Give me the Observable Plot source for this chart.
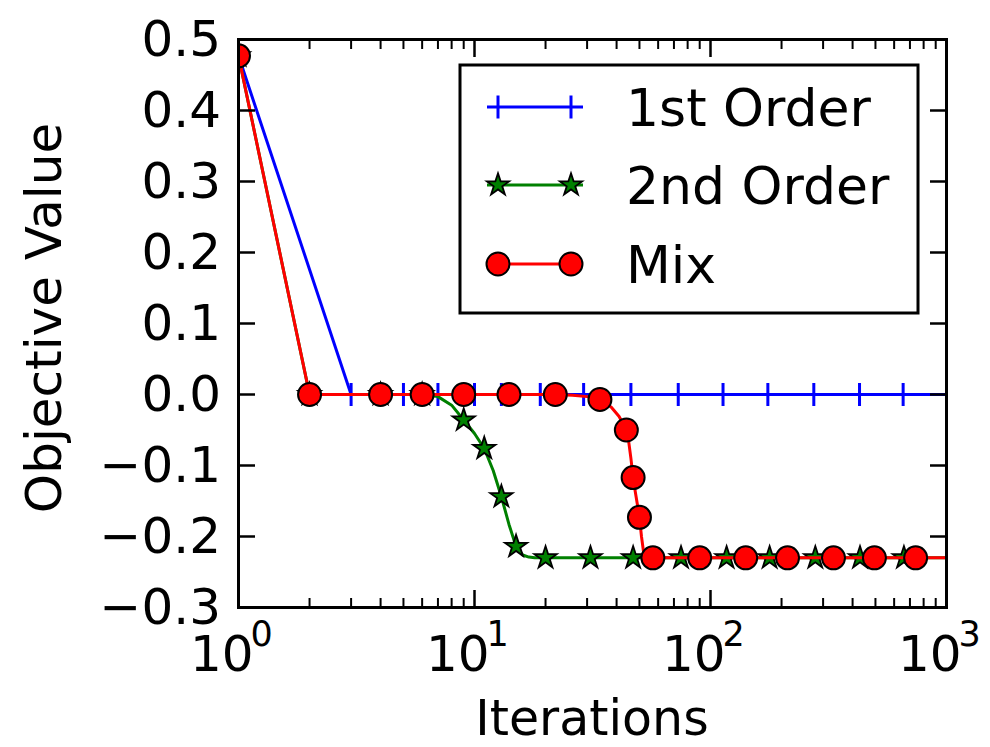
<!DOCTYPE html>
<html><head><meta charset="utf-8">
<script src="https://cdn.jsdelivr.net/npm/d3@7"></script>
<script src="https://cdn.jsdelivr.net/npm/@observablehq/plot@0.6"></script>
<style>
html,body{margin:0;padding:0;background:#fff;}
#chart{width:990px;height:747px;}
</style>
</head><body><div id="chart"></div>
<script>
// ---- Data ----
const seriesNames = ["1st Order", "2nd Order", "Mix"];

const firstOrderIter  = [1, 3, 1000];
const firstOrderValue = [0.477, 0, 0];
const firstOrderMarkerIter  = [1, 3, 5, 7, 10, 13, 19, 29, 46, 73, 113, 175, 274, 428, 655];
const firstOrderMarkerValue = [0.477, 0, 0, 0, 0, 0, 0, 0, 0, 0, 0, 0, 0, 0, 0];

const secondOrderIter  = [1, 2, 6, 7, 8, 9, 10, 11, 12, 13, 14, 15, 16, 17, 18, 1000];
const secondOrderValue = [0.477, 0, 0, -0.003, -0.015, -0.036, -0.055, -0.076, -0.107, -0.144, -0.183, -0.214, -0.226, -0.229, -0.23, -0.23];
const secondOrderMarkerIter  = [1, 2, 4, 6, 9, 11, 13, 15, 20, 31, 47, 75, 117, 178, 278, 430, 660];
const secondOrderMarkerValue = [0.477, 0, 0, 0, -0.036, -0.076, -0.144, -0.214, -0.23, -0.23, -0.23, -0.23, -0.23, -0.23, -0.23, -0.23, -0.23];

const mixIter  = [1, 2, 22, 26, 30, 34, 38, 41, 44, 45, 46, 47, 48, 49, 50, 51, 52, 53, 55, 1000];
const mixValue = [0.477, 0, 0, -0.001, -0.003, -0.007, -0.018, -0.031, -0.05, -0.066, -0.09, -0.117, -0.137, -0.155, -0.173, -0.2, -0.221, -0.228, -0.23, -0.23];
const mixMarkerIter  = [1, 2, 4, 6, 9, 14, 22, 34, 44, 47, 50, 57, 90, 141, 212, 332, 495, 740];
const mixMarkerValue = [0.477, 0, 0, 0, 0, 0, 0, -0.007, -0.05, -0.117, -0.173, -0.23, -0.23, -0.23, -0.23, -0.23, -0.23, -0.23];

const xMajorTicks = [1, 10, 100, 1000];
const xTickExponents = ["0", "1", "2", "3"];
const xMinorTicks = [2,3,4,5,6,7,8,9,20,30,40,50,60,70,80,90,200,300,400,500,600,700,800,900];
const yTicks = [-0.3, -0.2, -0.1, 0.0, 0.1, 0.2, 0.3, 0.4, 0.5];

// ---- helpers ----
const zip = (xs, ys) => xs.map((x, i) => ({x, y: ys[i]}));
const firstLine = zip(firstOrderIter, firstOrderValue);
const firstPts = zip(firstOrderMarkerIter, firstOrderMarkerValue);
const secondLine = zip(secondOrderIter, secondOrderValue);
const secondPts = zip(secondOrderMarkerIter, secondOrderMarkerValue);
const mixLine = zip(mixIter, mixValue);
const mixPts = zip(mixMarkerIter, mixMarkerValue);

const BLUE = "#0000ff", GREEN = "#008000", RED = "#ff0000";
const LW = 3;
const plusSymbol = {
  draw(ctx, size) {
    const h = Math.sqrt(size / Math.PI);
    ctx.moveTo(-h, 0); ctx.lineTo(h, 0);
    ctx.moveTo(0, -h); ctx.lineTo(0, h);
  }
};
const FONT = "DejaVu Sans";
const noText = () => "";

const chart = Plot.plot({
  width: 990, height: 747,
  marginLeft: 238, marginRight: 44, marginTop: 39, marginBottom: 140,
  style: {fontFamily: FONT, fontSize: "50px", background: "white", color: "black", overflow: "visible"},
  x: {type: "log", domain: [1, 1000]},
  y: {domain: [-0.3, 0.5]},
  marks: [
    // series
    Plot.line(firstLine, {x: "x", y: "y", stroke: BLUE, strokeWidth: LW, clip: true}),
    Plot.dot(firstPts, {x: "x", y: "y", symbol: plusSymbol, r: 11.5, stroke: BLUE, fill: "none", strokeWidth: LW, clip: true}),
    Plot.line(secondLine, {x: "x", y: "y", stroke: GREEN, strokeWidth: LW, clip: true}),
    Plot.dot(secondPts, {x: "x", y: "y", symbol: "star", r: 7, fill: GREEN, stroke: "black", strokeWidth: 1.8, clip: true}),
    Plot.line(mixLine, {x: "x", y: "y", stroke: RED, strokeWidth: LW, clip: true}),
    Plot.dot(mixPts, {x: "x", y: "y", symbol: "circle", r: 11.5, fill: RED, stroke: "black", strokeWidth: 2, clip: true}),
    // inward ticks
    Plot.axisX(xMajorTicks, {anchor: "bottom", tickSize: -17, strokeWidth: 2.5, tickFormat: noText, label: null}),
    Plot.axisX(xMinorTicks, {anchor: "bottom", tickSize: -9, strokeWidth: 2, tickFormat: noText, label: null}),
    Plot.axisX(xMajorTicks, {anchor: "top", tickSize: -17, strokeWidth: 2.5, tickFormat: noText, label: null}),
    Plot.axisX(xMinorTicks, {anchor: "top", tickSize: -9, strokeWidth: 2, tickFormat: noText, label: null}),
    Plot.axisY(yTicks, {anchor: "left", tickSize: -17, strokeWidth: 2.5, tickFormat: noText, label: null}),
    Plot.axisY(yTicks, {anchor: "right", tickSize: -17, strokeWidth: 2.5, tickFormat: noText, label: null}),
    // y tick labels
    Plot.axisY(yTicks, {anchor: "left", tickSize: 0, tickPadding: 17.5, tickFormat: d3.format(".1f"), fontSize: 50, label: null}),
    // x tick labels 10^k
    Plot.text(xMajorTicks, {x: d => d, text: () => "10", frameAnchor: "bottom", textAnchor: "end", lineAnchor: "bottom", dx: 15, dy: 63, fontSize: 50, fill: "black"}),
    Plot.text(xMajorTicks, {x: d => d, text: (d, i) => xTickExponents[i], frameAnchor: "bottom", textAnchor: "start", lineAnchor: "bottom", dx: 12, dy: 38, fontSize: 35, fill: "black"}),
    Plot.frame({stroke: "black", strokeWidth: 3})
  ]
});
document.getElementById("chart").appendChild(chart);

// ---- axis titles and legend ----
const svg = d3.select(chart);
svg.append("text").attr("transform", "translate(61,318) rotate(-90)")
  .attr("text-anchor", "middle").attr("font-family", FONT).attr("font-size", 50).attr("fill", "black")
  .text("Objective Value");
svg.append("text").attr("x", 592).attr("y", 735)
  .attr("text-anchor", "middle").attr("font-family", FONT).attr("font-size", 49).attr("fill", "black")
  .text("Iterations");

const lg = svg.append("g");
lg.append("rect").attr("x", 460).attr("y", 65).attr("width", 458).attr("height", 248)
  .attr("fill", "white").attr("stroke", "black").attr("stroke-width", 3);
const rowsY = [107, 185, 264];
const colors = [BLUE, GREEN, RED];
rowsY.forEach((yy, i) => {
  lg.append("line").attr("x1", 487).attr("x2", 583).attr("y1", yy).attr("y2", yy)
    .attr("stroke", colors[i]).attr("stroke-width", LW);
  [498, 571].forEach(xx => {
    if (i === 0) {
      lg.append("line").attr("x1", xx).attr("x2", xx).attr("y1", yy - 11.5).attr("y2", yy + 11.5)
        .attr("stroke", BLUE).attr("stroke-width", LW);
    } else if (i === 1) {
      lg.append("path").attr("transform", `translate(${xx},${yy})`)
        .attr("d", d3.symbol(d3.symbolStar, Math.PI * 7 * 7)())
        .attr("fill", GREEN).attr("stroke", "black").attr("stroke-width", 1.8);
    } else {
      lg.append("circle").attr("cx", xx).attr("cy", yy).attr("r", 11.5)
        .attr("fill", RED).attr("stroke", "black").attr("stroke-width", 2);
    }
  });
  lg.append("text").attr("x", 626).attr("y", yy).attr("dy", "0.36em")
    .attr("text-anchor", "start")
    .attr("font-family", FONT).attr("font-size", 52).attr("fill", "black")
    .text(seriesNames[i]);
});
</script>
</body></html>
